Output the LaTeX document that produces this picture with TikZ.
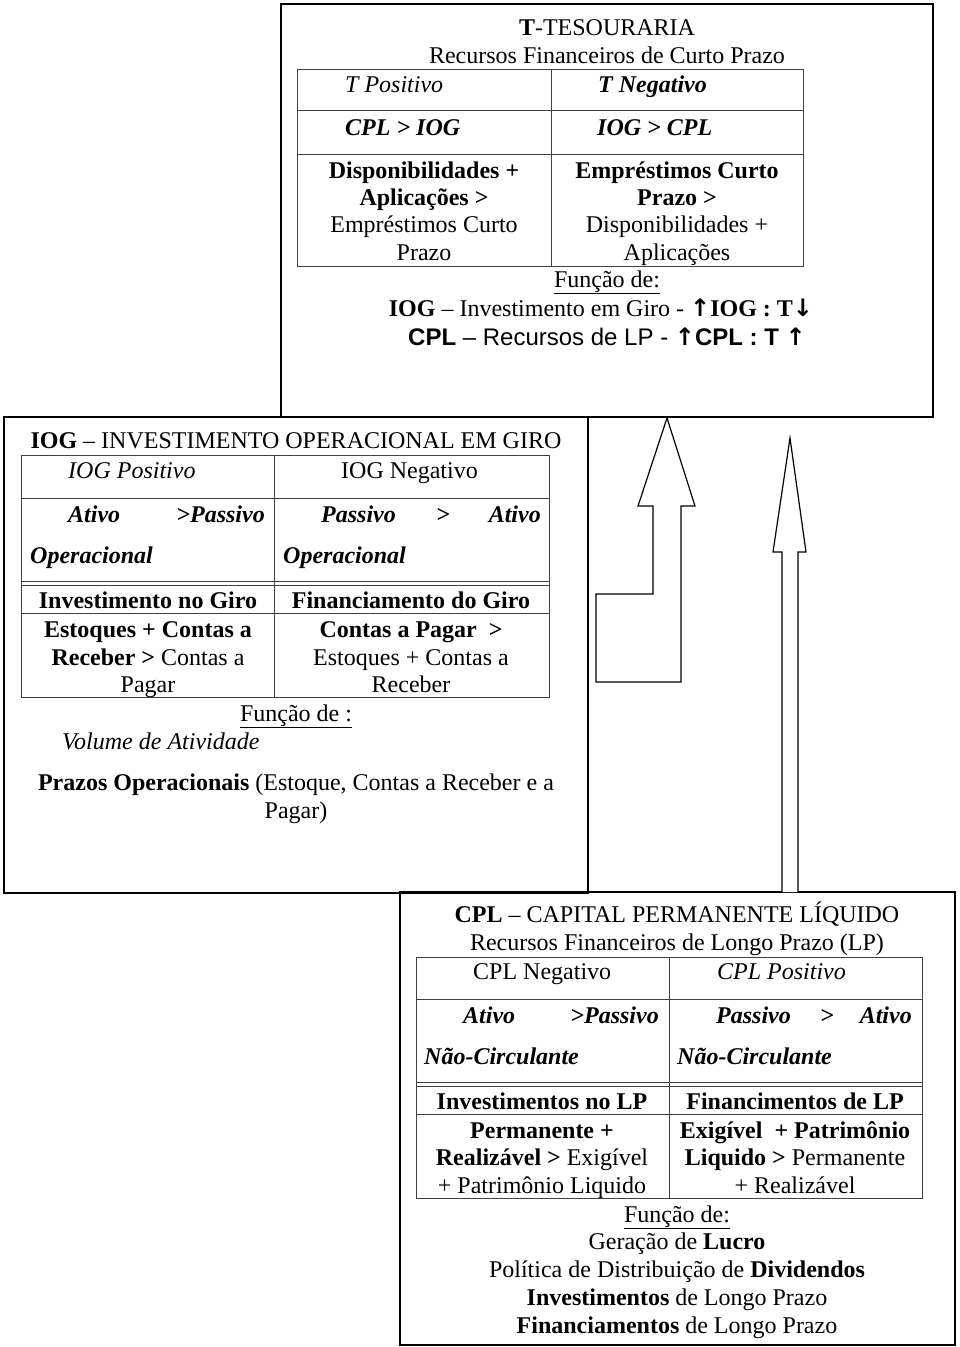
\documentclass[tikz,border=0pt]{standalone}
\usepackage{fontspec}
\setmainfont{Liberation Serif}
\newfontfamily\arialf{Liberation Sans}
\newfontfamily\dvf{DejaVu Sans}
\newcommand{\upar}{{\dvf\bfseries ↑}}
\newcommand{\dnar}{{\dvf\bfseries ↓}}
\begin{document}
\begin{tikzpicture}[x=1pt,y=-1pt,
  box/.style={line width=1.6pt, draw=black},
  tab/.style={line width=0.9pt, draw=black!75},
  arr/.style={line width=1.2pt, draw=black, fill=white, line join=miter},
  t/.style={inner sep=0pt, anchor=base, font=\fontsize{24}{27.6}\selectfont},
  tw/.style={t, anchor=base west},
  te/.style={t, anchor=base east}]
\useasboundingbox[fill=white] (0,0) rectangle (960,1347);

% ---------------- top box ----------------
\draw[box] (281,4) rectangle (933,417);
\draw[tab] (297,69) rectangle (803,266);
\draw[tab] (297,110) -- (803,110);
\draw[tab] (297,154) -- (803,154);
\draw[tab] (551,69) -- (551,266);

\node[t] (tt1) at (607,35) {\textbf{T}-TESOURARIA};
\node[t] (tt2) at (607,63) {Recursos Financeiros de Curto Prazo};
\node[tw] (tp) at (345,92) {\itshape T Positivo};
\node[tw] (tn) at (598,92) {\bfseries\itshape T Negativo};
\node[tw] (tcpl) at (345,135) {\bfseries\itshape CPL > IOG};
\node[tw] (tiog) at (597,135) {\bfseries\itshape IOG > CPL};
\node[t] (tl1) at (424,178) {\textbf{Disponibilidades +}};
\node[t] (tl2) at (424,205) {\textbf{Aplicações >}};
\node[t] (tl3) at (424,232) {Empréstimos Curto};
\node[t] (tl4) at (424,260) {Prazo};
\node[t] (tr1) at (677,178) {\textbf{Empréstimos Curto}};
\node[t] (tr2) at (677,205) {\textbf{Prazo >}};
\node[t] (tr3) at (677,232) {Disponibilidades +};
\node[t] (tr4) at (677,260) {Aplicações};
\node[t] (tf) at (607,287) {\underline{Função de:}};
\node[t] (tf1) at (601,316) {\textbf{IOG} – Investimento em Giro - \upar\textbf{IOG : T}\dnar};
\node[t] (tf2) at (607,345) {\arialf\textbf{CPL} – Recursos de LP - \upar\textbf{CPL : T }\upar};

% ---------------- middle box ----------------
\draw[box] (4,417) rectangle (588,893);
\draw[tab] (21,455) rectangle (549,697);
\draw[tab] (21,498) -- (549,498);
\draw[tab] (21,581) -- (549,581);
\draw[tab] (21,585) -- (549,585);
\draw[tab] (21,613) -- (549,613);
\draw[tab] (274,455) -- (274,697);

\node[t] (mt) at (296,448) {\textbf{IOG} – INVESTIMENTO OPERACIONAL EM GIRO};
\node[tw] (mp) at (68,478) {\itshape IOG Positivo};
\node[tw] (mn) at (341,478) {IOG Negativo};
\node[tw] (ma1) at (68,522) {\bfseries\itshape Ativo};
\node[te] (ma2) at (265,522) {\bfseries\itshape >Passivo};
\node[tw] (ma3) at (30,563) {\bfseries\itshape Operacional};
\node[tw] (mb1) at (321,522) {\bfseries\itshape Passivo};
\node[t] (mb2) at (443,522) {\bfseries\itshape >};
\node[te] (mb3) at (541,522) {\bfseries\itshape Ativo};
\node[tw] (mb4) at (283,563) {\bfseries\itshape Operacional};
\node[t] (mi) at (148,608) {\textbf{Investimento no Giro}};
\node[t] (mfi) at (411,608) {\textbf{Financiamento do Giro}};
\node[t] (ml1) at (148,637) {\textbf{Estoques + Contas a}};
\node[t] (ml2) at (148,665) {\textbf{Receber >} Contas a};
\node[t] (ml3) at (148,692) {Pagar};
\node[t] (mr1) at (411,637) {\textbf{Contas a Pagar\ \ >}};
\node[t] (mr2) at (411,665) {Estoques + Contas a};
\node[t] (mr3) at (411,692) {Receber};
\node[t] (mf) at (296,721) {\underline{Função de :}};
\node[tw] (mv) at (62,749) {\itshape Volume de Atividade};
\node[t] (mz1) at (296,790) {\textbf{Prazos Operacionais} (Estoque, Contas a Receber e a};
\node[t] (mz2) at (296,818) {Pagar)};

% ---------------- bottom box ----------------
\draw[box] (400,892) rectangle (955,1345);
\draw[tab] (416,957) rectangle (922,1198);
\draw[tab] (416,999) -- (922,999);
\draw[tab] (416,1082) -- (922,1082);
\draw[tab] (416,1086) -- (922,1086);
\draw[tab] (416,1114) -- (922,1114);
\draw[tab] (669,957) -- (669,1198);

\node[t] (bt1) at (677,922) {\textbf{CPL} – CAPITAL PERMANENTE LÍQUIDO};
\node[t] (bt2) at (677,950) {Recursos Financeiros de Longo Prazo (LP)};
\node[tw] (bn) at (473,979) {CPL Negativo};
\node[tw] (bp) at (717,979) {\itshape CPL Positivo};
\node[tw] (ba1) at (463,1023) {\bfseries\itshape Ativo};
\node[te] (ba2) at (659,1023) {\bfseries\itshape >Passivo};
\node[tw] (ba3) at (424,1064) {\bfseries\itshape Não-Circulante};
\node[tw] (bb1) at (716,1023) {\bfseries\itshape Passivo};
\node[t] (bb2) at (827,1023) {\bfseries\itshape >};
\node[te] (bb3) at (912,1023) {\bfseries\itshape Ativo};
\node[tw] (bb4) at (677,1064) {\bfseries\itshape Não-Circulante};
\node[t] (bi) at (542,1109) {\textbf{Investimentos no LP}};
\node[t] (bfi) at (795,1109) {\textbf{Financimentos de LP}};
\node[t] (bl1) at (542,1138) {\textbf{Permanente +}};
\node[t] (bl2) at (542,1165) {\textbf{Realizável >} Exigível};
\node[t] (bl3) at (542,1193) {+ Patrimônio Liquido};
\node[t] (br1) at (795,1138) {\textbf{Exigível\ \ + Patrimônio}};
\node[t] (br2) at (795,1165) {\textbf{Liquido >} Permanente};
\node[t] (br3) at (795,1193) {+ Realizável};
\node[t] (bf) at (677,1222) {\underline{Função de:}};
\node[t] (bg1) at (677,1249) {Geração de \textbf{Lucro}};
\node[t] (bg2) at (677,1277) {Política de Distribuição de \textbf{Dividendos}};
\node[t] (bg3) at (677,1305) {\textbf{Investimentos} de Longo Prazo};
\node[t] (bg4) at (677,1333) {\textbf{Financiamentos} de Longo Prazo};

% ---------------- arrows ----------------
\draw[arr] (667,418) -- (695,506) -- (681,506) -- (681,682) -- (596,682)
  -- (596,594) -- (653,594) -- (653,506) -- (638,506) -- cycle;
\draw[arr] (782,892) -- (782,552) -- (773,552) -- (790,438) -- (806,552)
  -- (798,552) -- (798,892);
\end{tikzpicture}
\end{document}
